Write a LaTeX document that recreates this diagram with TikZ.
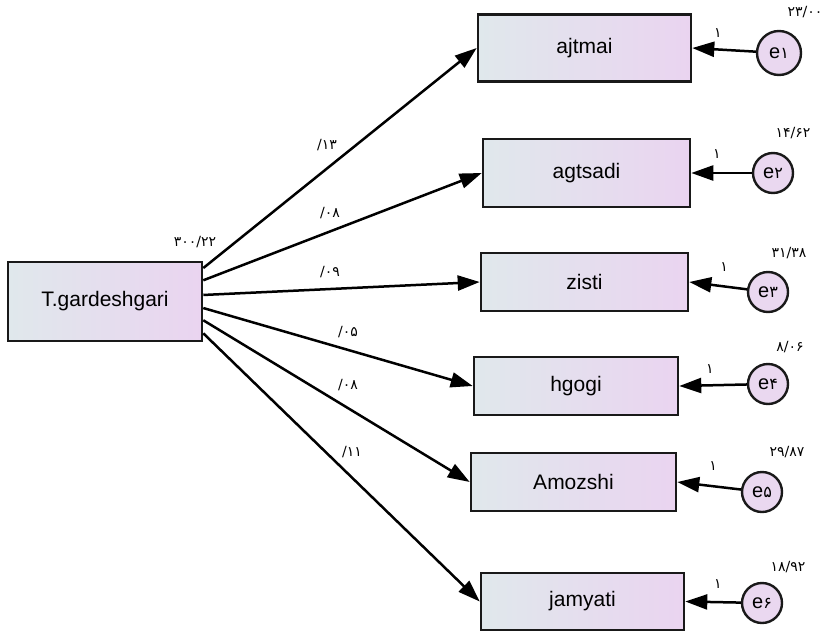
\documentclass[tikz,border=0pt]{standalone}
\usepackage{fontspec}
\setmainfont{Liberation Sans}
\newfontfamily\pfont{DejaVu Sans}
\usetikzlibrary{arrows.meta,calc}
\definecolor{gl}{RGB}{224,232,236}
\definecolor{gr}{RGB}{234,212,240}
\definecolor{cf}{RGB}{234,216,240}
\definecolor{bd}{RGB}{25,25,25}
\tikzset{
  obs/.style={draw=bd, line width=2.6pt, left color=gl, right color=gr, inner sep=0pt,
    font=\fontsize{21}{24}\selectfont, text=black},
  err/.style={draw=bd, line width=2.4pt, fill=cf, circle, minimum size=40pt, inner sep=0pt,
    font=\fontsize{20}{22}\selectfont},
  path/.style={line width=2.5pt, -{Triangle[length=22pt,width=15pt]}},
  num/.style={font=\pfont\fontsize{14}{15}\selectfont, inner sep=0pt},
}
\begin{document}
\begin{tikzpicture}[x=1pt,y=-1pt]
\useasboundingbox (0,0) rectangle (827,632);
% observed boxes
\node[obs, minimum width=194pt, minimum height=79pt] (T) at (105,301.5) {T.gardeshgari};
\node[obs, minimum width=213pt, minimum height=67pt] (A1) at (584.5,48) {ajtmai};
\node[obs, minimum width=207pt, minimum height=68pt] (A2) at (586.5,173) {agtsadi};
\node[obs, minimum width=207pt, minimum height=58pt] (A3) at (584.5,282) {zisti};
\node[obs, minimum width=204pt, minimum height=58pt] (A4) at (576,386) {hgogi};
\node[obs, minimum width=205pt, minimum height=58pt] (A5) at (573.5,482) {Amozshi};
\node[obs, minimum width=203pt, minimum height=57pt] (A6) at (582.5,601.5) {jamyati};
% error circles
\node[err, minimum width=44pt] (e1) at (779,53) {e{\pfont\fontsize{16}{20}\selectfont ۱}};
\node[err] (e2) at (773,173) {e{\pfont\fontsize{16}{20}\selectfont ۲}};
\node[err] (e3) at (768,292) {e{\pfont\fontsize{16}{20}\selectfont ۳}};
\node[err] (e4) at (768,384) {e{\pfont\fontsize{16}{20}\selectfont ۴}};
\node[err] (e5) at (762,492) {e{\pfont\fontsize{16}{20}\selectfont ۵}};
\node[err] (e6) at (762,603) {e{\pfont\fontsize{16}{20}\selectfont ۶}};
% start coordinates on T's right side
\coordinate (s1) at ($(T.north east)!0.09!(T.south east)$);
\coordinate (s2) at ($(T.north east)!0.24!(T.south east)$);
\coordinate (s3) at ($(T.north east)!0.42!(T.south east)$);
\coordinate (s4) at ($(T.north east)!0.58!(T.south east)$);
\coordinate (s5) at ($(T.north east)!0.73!(T.south east)$);
\coordinate (s6) at ($(T.north east)!0.89!(T.south east)$);
\draw[path] (s1) -- (A1.west);
\draw[path] (s2) -- (A2.west);
\draw[path] (s3) -- (A3.west);
\draw[path] (s4) -- (A4.west);
\draw[path] (s5) -- (A5.west);
\draw[path] (s6) -- (A6.west);
\draw[path] (e1) -- (A1.east);
\draw[path] (e2) -- (A2.east);
\draw[path] (e3) -- (A3.east);
\draw[path] (e4) -- (A4.east);
\draw[path] (e5) -- (A5.east);
\draw[path] (e6) -- (A6.east);
% regression weights
\node[num] (w1) at (327,145) {/۱۳};
\node[num] (w2) at (330,213) {/۰۸};
\node[num] (w3) at (330,272) {/۰۹};
\node[num] (w4) at (348,332) {/۰۵};
\node[num] (w5) at (348,385) {/۰۸};
\node[num] (w6) at (352,452) {/۱۱};
% variances
\node[num] (v0) at (195,242) {۳۰۰/۲۲};
\node[num] (v1) at (805,12) {۲۳/۰۰};
\node[num] (v2) at (793,133) {۱۴/۶۲};
\node[num] (v3) at (789,253) {۳۱/۳۸};
\node[num] (v4) at (790,347) {۸/۰۶};
\node[num] (v5) at (787,452) {۲۹/۸۷};
\node[num] (v6) at (788,567) {۱۸/۹۲};
% fixed loadings
\node[num] (o1) at (718,33) {۱};
\node[num] (o2) at (717,154) {۱};
\node[num] (o3) at (724,267) {۱};
\node[num] (o4) at (710,369) {۱};
\node[num] (o5) at (713,466) {۱};
\node[num] (o6) at (718,584) {۱};
\end{tikzpicture}
\end{document}
